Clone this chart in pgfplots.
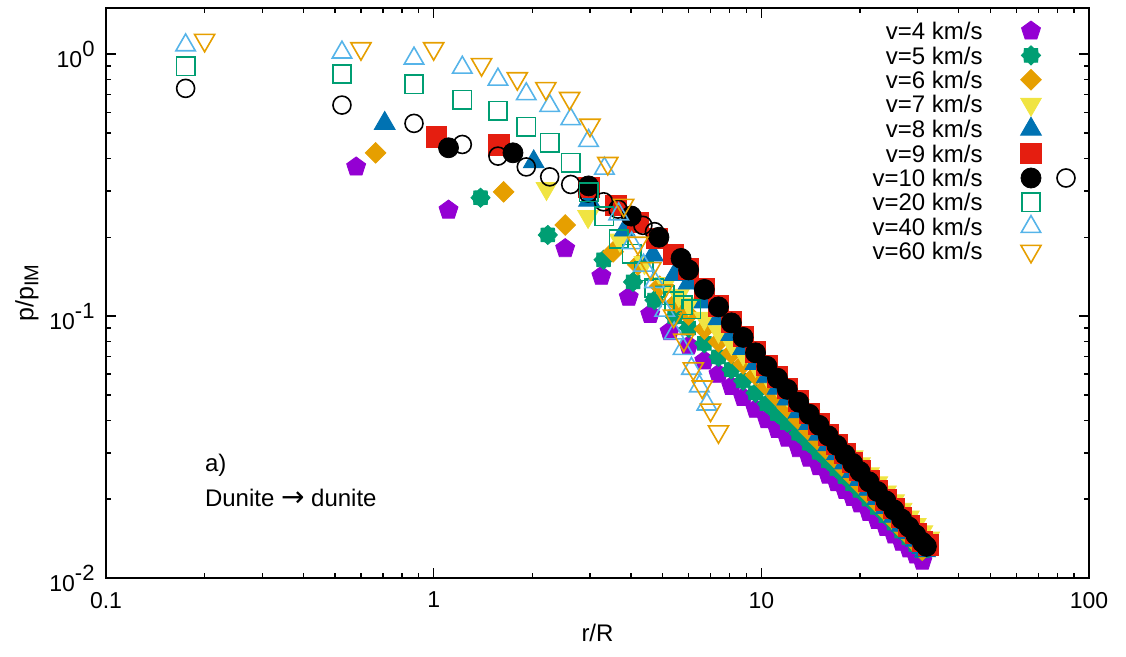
\documentclass[border=0pt]{standalone}
\usepackage{fontspec}
\setmainfont{Liberation Sans}
\newfontfamily\arrowfont{DejaVu Sans}
\usepackage{pgfplots}
\pgfplotsset{compat=1.18}
\usetikzlibrary{plotmarks}
\definecolor{cpurple}{HTML}{9400D3}
\definecolor{cgreen}{HTML}{009E73}
\definecolor{corange}{HTML}{E69F00}
\definecolor{cyellow}{HTML}{F0E442}
\definecolor{cblue}{HTML}{0072B2}
\definecolor{cred}{HTML}{E51E10}
\definecolor{clblue}{HTML}{56B4E9}
\pgfdeclareplotmark{star8}{%
  \pgfpathmoveto{\pgfpointpolar{0}{\pgfplotmarksize}}%
  \pgfpathlineto{\pgfpointpolar{22.5}{0.78\pgfplotmarksize}}%
  \pgfpathlineto{\pgfpointpolar{45}{\pgfplotmarksize}}%
  \pgfpathlineto{\pgfpointpolar{67.5}{0.78\pgfplotmarksize}}%
  \pgfpathlineto{\pgfpointpolar{90}{\pgfplotmarksize}}%
  \pgfpathlineto{\pgfpointpolar{112.5}{0.78\pgfplotmarksize}}%
  \pgfpathlineto{\pgfpointpolar{135}{\pgfplotmarksize}}%
  \pgfpathlineto{\pgfpointpolar{157.5}{0.78\pgfplotmarksize}}%
  \pgfpathlineto{\pgfpointpolar{180}{\pgfplotmarksize}}%
  \pgfpathlineto{\pgfpointpolar{202.5}{0.78\pgfplotmarksize}}%
  \pgfpathlineto{\pgfpointpolar{225}{\pgfplotmarksize}}%
  \pgfpathlineto{\pgfpointpolar{247.5}{0.78\pgfplotmarksize}}%
  \pgfpathlineto{\pgfpointpolar{270}{\pgfplotmarksize}}%
  \pgfpathlineto{\pgfpointpolar{292.5}{0.78\pgfplotmarksize}}%
  \pgfpathlineto{\pgfpointpolar{315}{\pgfplotmarksize}}%
  \pgfpathlineto{\pgfpointpolar{337.5}{0.78\pgfplotmarksize}}%
  \pgfpathclose
  \pgfusepathqfillstroke
}
\pgfplotsset{
  mylegimg/.style={legend image code/.code={\path (0pt,0pt); \draw[##1] plot coordinates {(24pt,4.3pt)};}},
  blacklegimg/.style={legend image code/.code={\path (0pt,0pt); \draw[##1] plot coordinates {(24pt,4.3pt)}; \draw[black, line width=0.8pt] (41.5pt,4.3pt) circle[radius=4.5pt];}},
}
\newcommand{\sups}[1]{\raisebox{5.5pt}{\fontsize{11}{12}\selectfont #1}}
\begin{document}
\fontsize{11.5}{13.8}\selectfont
\begin{tikzpicture}
\useasboundingbox (0,0) rectangle (563pt,328.5pt);
\begin{axis}[
  at={(53pt,39.5pt)}, anchor=south west,
  scale only axis, width=491.5pt, height=285pt,
  xmode=log, ymode=log,
  xmin=0.1, xmax=100, ymin=0.01, ymax=1.5,
  xtick={0.1,1,10,100}, xticklabels={0.1,1,10,100},
  ytick={0.01,0.1,1}, yticklabels={10\sups{-2},10\sups{-1},10\sups{0}},
  axis line style={line width=0.75pt},
  major tick length=5pt, minor tick length=2.5pt,
  every tick/.style={black, line width=0.7pt},
  tick align=inside,
  xlabel={r/R}, ylabel={p/p\raisebox{-2.5pt}{\fontsize{10}{11}\selectfont IM}},
  xlabel style={at={(axis description cs:0.5,-0.0965)}, anchor=center, font=\fontsize{12}{14}\selectfont},
  ylabel style={at={(axis description cs:-0.0804,0.5)}, anchor=center, font=\fontsize{12.5}{14}\selectfont},
  xticklabel style={yshift=-3pt},
  yticklabel style={xshift=-1.7pt},
  legend plot pos=right,
  legend cell align=right,
  legend style={draw=none, fill=none, inner sep=0pt, outer sep=0pt,
    at={(axis description cs:1,1)}, anchor=north east, xshift=-6.6pt, yshift=-5.8pt,
    font=\fontsize{12}{14}\selectfont, row sep=0pt, column sep=0pt,
    nodes={inner sep=0pt, text height=10pt, text depth=2.2pt}, cells={anchor=base east}},
  mylegimg,
]
% v=4
\addplot[only marks, mark=pentagon*, mark size=5pt, color=cpurple] table {
0.58 0.371
1.11 0.254
2.52 0.181
3.25 0.142
3.94 0.118
4.58 0.1015
5.25 0.0873
6.0 0.0770
6.7 0.0675
7.4 0.0600
8.1 0.0539
8.8 0.0489
9.6 0.0441
10.4 0.0402
11.2 0.0369
12.0 0.0342
13.0 0.0312
14.0 0.0287
15.0 0.0266
16.0 0.0247
17.0 0.0231
18.0 0.0216
19.0 0.0203
20.0 0.0192
21.3 0.0178
22.6 0.0166
24.0 0.0156
25.4 0.0146
26.8 0.0137
28.2 0.01293
29.6 0.01224
31.0 0.01160
};
\addlegendentry{v=4 km/s}
% v=5
\addplot[only marks, mark=star8, mark size=4.8pt, color=cgreen] table {
1.39 0.283
2.23 0.204
3.30 0.164
4.06 0.135
4.72 0.115
5.44 0.0994
6.0 0.0900
6.7 0.0787
7.4 0.0698
8.1 0.0625
8.8 0.0566
9.6 0.0509
10.4 0.0463
11.2 0.0424
12.0 0.0392
13.0 0.0357
14.0 0.0327
15.0 0.0302
16.0 0.0280
17.0 0.0261
18.0 0.0244
19.0 0.0229
20.0 0.0216
21.3 0.0200
22.6 0.0186
24.0 0.0173
25.4 0.0162
26.8 0.0151
28.2 0.01424
29.6 0.01342
31.0 0.01269
};
\addlegendentry{v=5 km/s}
% v=6
\addplot[only marks, mark=square*, mark size=3.65pt, mark options={rotate=45}, color=corange] table {
0.665 0.42
1.635 0.298
2.52 0.2226
3.53 0.176
4.2 0.157
4.9 0.130
5.5 0.113
6.0 0.1010
6.7 0.0892
7.4 0.0798
8.1 0.0721
8.8 0.0657
9.6 0.0596
10.4 0.0540
11.2 0.0490
12.0 0.0447
13.0 0.0402
14.0 0.0364
15.0 0.0333
16.0 0.0305
17.0 0.0282
18.0 0.0261
19.0 0.0243
20.0 0.0227
21.3 0.0209
22.6 0.0193
24.0 0.0179
25.4 0.0166
26.8 0.0154
28.2 0.01447
29.6 0.01358
31.0 0.01277
};
\addlegendentry{v=6 km/s}
% v=7
\addplot[only marks, mark=triangle*, mark size=6pt, mark options={rotate=180}, color=cyellow] table {
2.21 0.307
2.96 0.240
3.70 0.195
4.4 0.160
5.1 0.133
5.6 0.120
6.0 0.1112
6.7 0.0980
7.4 0.0875
8.1 0.0788
8.8 0.0718
9.6 0.0649
10.4 0.0592
11.2 0.0542
12.0 0.0500
13.0 0.0455
14.0 0.0416
15.0 0.0384
16.0 0.0355
17.0 0.0331
18.0 0.0309
19.0 0.0290
20.0 0.0273
21.3 0.0250
22.6 0.0231
24.0 0.0213
25.4 0.0197
26.8 0.0183
28.2 0.0171
29.6 0.0160
31.0 0.0150
32.5 0.0142
};
\addlegendentry{v=7 km/s}
% v=8
\addplot[only marks, mark=triangle*, mark size=6pt, color=cblue] table {
0.709 0.544
2.02 0.388
2.98 0.277
3.83 0.213
4.67 0.171
5.44 0.144
6.0 0.1337
6.7 0.1133
7.4 0.0976
8.1 0.0851
8.8 0.0752
9.6 0.0659
10.4 0.0587
11.2 0.0530
12.0 0.0482
13.0 0.0431
14.0 0.0389
15.0 0.0354
16.0 0.0323
17.0 0.0298
18.0 0.0275
19.0 0.0255
20.0 0.0238
21.3 0.0218
22.6 0.0201
24.0 0.0186
25.4 0.0172
26.8 0.0159
28.2 0.01488
29.6 0.01393
31.0 0.01307
31.6 0.0127
};
\addlegendentry{v=8 km/s}
% v=9
\addplot[only marks, mark=square*, mark size=5.1pt, color=cred] table {
1.02 0.483
1.58 0.45
2.98 0.31
3.6 0.265
4.2 0.228
4.8 0.198
5.4 0.172
6.0 0.1515
6.7 0.1277
7.4 0.1095
8.1 0.0951
8.8 0.0837
9.6 0.0731
10.4 0.0649
11.2 0.0585
12.0 0.0530
13.0 0.0474
14.0 0.0426
15.0 0.0387
16.0 0.0352
17.0 0.0324
18.0 0.0299
19.0 0.0277
20.0 0.0258
21.3 0.0235
22.6 0.0216
24.0 0.0199
25.4 0.0184
26.8 0.0170
28.2 0.01582
29.6 0.01477
31.0 0.01383
32.3 0.0134
};
\addlegendentry{v=9 km/s}
% v=10 filled
\addplot[only marks, mark=*, mark size=5pt, color=black, blacklegimg] table {
1.11 0.439
1.746 0.42
2.97 0.314
4.01 0.241
4.87 0.20
5.69 0.166
6.0 0.150
6.7 0.1264
7.4 0.1084
8.1 0.0942
8.8 0.0829
9.6 0.0724
10.4 0.0643
11.2 0.0579
12.0 0.0525
13.0 0.0469
14.0 0.0422
15.0 0.0383
16.0 0.0349
17.0 0.0321
18.0 0.0296
19.0 0.0274
20.0 0.0255
21.3 0.0233
22.6 0.0214
24.0 0.0197
25.4 0.0182
26.8 0.0168
28.2 0.01566
29.6 0.01462
31.0 0.01369
31.9 0.0132
};
\addlegendentry{v=10 km/s}
% v=10 open
\addplot[only marks, mark=o, mark size=4.5pt, color=black, mark options={line width=0.8pt}, forget plot] table {
0.175 0.74
0.525 0.639
0.871 0.544
1.223 0.452
1.571 0.408
1.917 0.371
2.26 0.340
2.62 0.318
2.96 0.295
3.30 0.273
3.65 0.256
4.00 0.240
4.35 0.222
4.72 0.210
};
% v=20
\addplot[only marks, mark=square, mark size=4.6pt, color=cgreen, mark options={line width=0.8pt}] table {
0.175 0.90
0.525 0.839
0.871 0.768
1.223 0.671
1.571 0.608
1.917 0.528
2.26 0.459
2.62 0.385
2.97 0.297
3.32 0.240
3.67 0.197
4.02 0.173
4.37 0.148
4.72 0.128
5.07 0.120
5.42 0.114
5.77 0.110
6.12 0.106
};
\addlegendentry{v=20 km/s}
% v=40
\addplot[only marks, mark=triangle, mark size=5.6pt, color=clblue, mark options={line width=0.8pt}] table {
0.175 1.082
0.525 1.015
0.871 0.963
1.223 0.889
1.571 0.80
1.917 0.704
2.26 0.635
2.62 0.565
2.97 0.467
3.32 0.366
3.67 0.245
4.02 0.19
4.37 0.156
4.72 0.135
5.07 0.105
5.42 0.086
5.77 0.075
6.12 0.063
6.47 0.054
6.82 0.046
};
\addlegendentry{v=40 km/s}
% v=60
\addplot[only marks, mark=triangle, mark size=5.8pt, color=corange, mark options={rotate=180, line width=0.8pt}] table {
0.2 1.13
0.6 1.05
1.0 1.05
1.4 0.913
1.8 0.807
2.2 0.74
2.6 0.678
3.0 0.536
3.4 0.383
3.8 0.265
4.2 0.19
4.6 0.152
5.0 0.125
5.4 0.100
5.8 0.081
6.2 0.063
6.6 0.0537
7.0 0.0438
7.4 0.0362
};
\addlegendentry{v=60 km/s}
\node[anchor=base west, inner sep=0pt, font=\fontsize{12}{14}\selectfont] at (axis cs:0.2,0.0254) {a)};
\node[anchor=base west, inner sep=0pt, font=\fontsize{12}{14}\selectfont] at (axis cs:0.2,0.01883) {Dunite {\arrowfont\fontsize{14}{15}\selectfont →} dunite};
\end{axis}
\end{tikzpicture}
\end{document}
